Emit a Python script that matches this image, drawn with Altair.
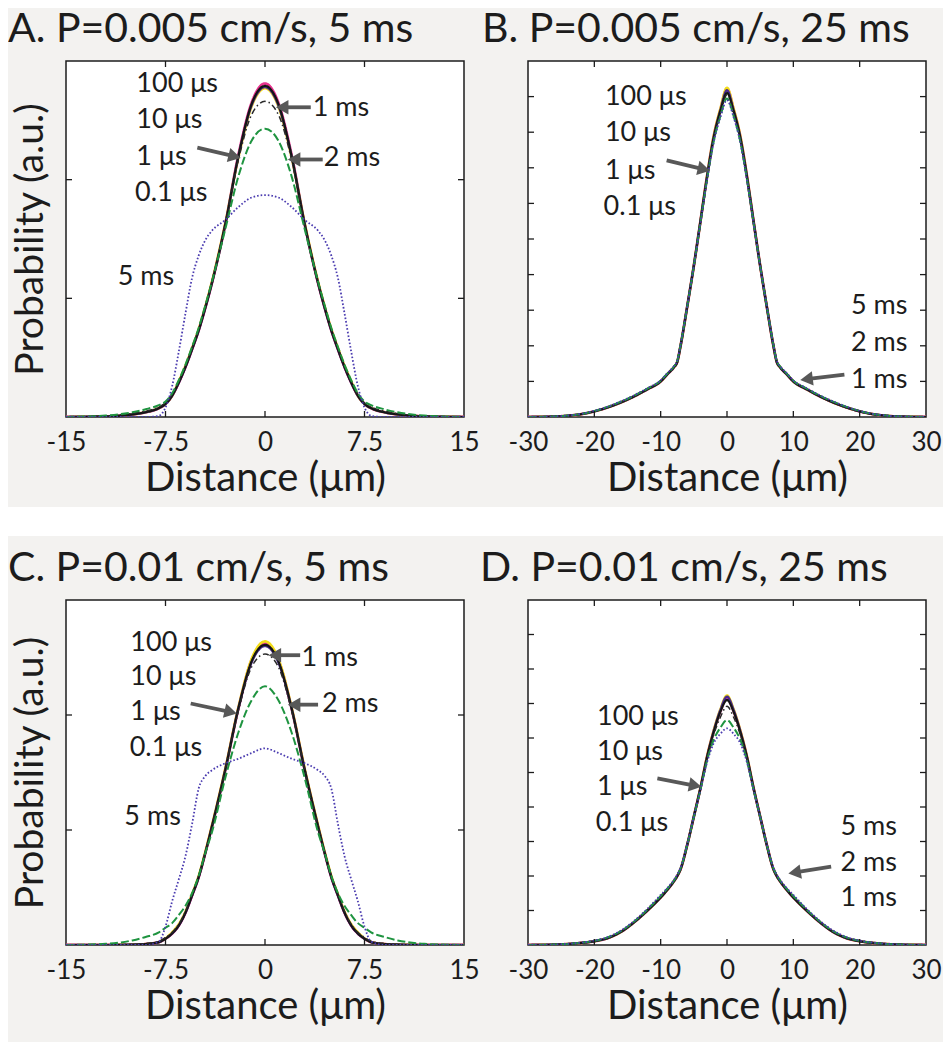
import altair as alt
import pandas as pd

FONT = "Lato"
INK = "#1c1c1c"
ARROW = "#585858"
BG = "#f3f2f0"

SERIES = ["0.1 μs", "1 μs", "10 μs", "100 μs", "1 ms", "2 ms", "5 ms"]
COLORS = {"0.1 μs": "#e8338f", "1 μs": "#f2dc1a", "10 μs": "#4a2a8e", "100 μs": "#151515",
          "1 ms": "#2a2a2a", "2 ms": "#1f9440", "5 ms": "#4b3cb0"}
DASHES = {"0.1 μs": [1, 0], "1 μs": [1, 0], "10 μs": [1, 0], "100 μs": [1, 0],
          "1 ms": [6, 3, 1.5, 3], "2 ms": [8, 3], "5 ms": [1.6, 2]}
WIDTHS = {"0.1 μs": 2.8, "1 μs": 2.6, "10 μs": 2.4, "100 μs": 2.2,
          "1 ms": 1.5, "2 ms": 2.0, "5 ms": 1.8}

# ---------------- x grids ----------------
XA = [-15, -12, -10, -9, -8, -7.5, -7, -6.5, -6, -5.5, -5, -4.5, -4, -3, -2, -1, 0,
      1, 2, 3, 4, 4.5, 5, 5.5, 6, 6.5, 7, 7.5, 8, 9, 10, 12, 15]
XB = [-30, -26, -24, -22, -20, -18, -16, -14, -12, -10, -9, -8, -7.5, -7, -6, -5, -4, -3, -2, -1, 0,
      1, 2, 3, 4, 5, 6, 7, 7.5, 8, 9, 10, 12, 14, 16, 18, 20, 22, 24, 26, 30]

# ---------------- Panel A: P=0.005 cm/s, 5 ms ----------------
A_01us = [0, 0.005, 0.021, 0.04, 0.074, 0.11, 0.18, 0.29, 0.42, 0.57, 0.73, 0.92, 1.13, 1.62, 2.21, 2.65, 2.81,
          2.65, 2.21, 1.62, 1.13, 0.92, 0.73, 0.57, 0.42, 0.29, 0.18, 0.11, 0.074, 0.04, 0.021, 0.005, 0]
A_1us = [0, 0.005, 0.022, 0.041, 0.076, 0.11, 0.18, 0.30, 0.43, 0.58, 0.74, 0.93, 1.14, 1.63, 2.19, 2.62, 2.77,
         2.62, 2.19, 1.63, 1.14, 0.93, 0.74, 0.58, 0.43, 0.30, 0.18, 0.11, 0.076, 0.041, 0.022, 0.005, 0]
A_10us = [0, 0.005, 0.022, 0.04, 0.075, 0.11, 0.18, 0.29, 0.42, 0.57, 0.73, 0.92, 1.13, 1.62, 2.20, 2.63, 2.78,
          2.63, 2.20, 1.62, 1.13, 0.92, 0.73, 0.57, 0.42, 0.29, 0.18, 0.11, 0.075, 0.04, 0.022, 0.005, 0]
A_100us = [0, 0.005, 0.022, 0.04, 0.075, 0.11, 0.18, 0.29, 0.42, 0.57, 0.73, 0.92, 1.13, 1.62, 2.20, 2.64, 2.79,
           2.64, 2.20, 1.62, 1.13, 0.92, 0.73, 0.57, 0.42, 0.29, 0.18, 0.11, 0.075, 0.04, 0.022, 0.005, 0]
A_1ms = [0, 0.008, 0.03, 0.05, 0.085, 0.12, 0.19, 0.30, 0.43, 0.58, 0.74, 0.93, 1.13, 1.62, 2.17, 2.55, 2.66,
         2.55, 2.17, 1.62, 1.13, 0.93, 0.74, 0.58, 0.43, 0.30, 0.19, 0.12, 0.085, 0.05, 0.03, 0.008, 0]
A_2ms = [0, 0.012, 0.04, 0.065, 0.10, 0.13, 0.20, 0.31, 0.44, 0.59, 0.75, 0.94, 1.14, 1.58, 2.03, 2.33, 2.43,
         2.33, 2.03, 1.58, 1.14, 0.94, 0.75, 0.59, 0.44, 0.31, 0.20, 0.13, 0.10, 0.065, 0.04, 0.012, 0]
A_5ms = [0, 0, 0, 0, 0.01, 0.08, 0.26, 0.55, 0.87, 1.17, 1.36, 1.49, 1.57, 1.66, 1.77, 1.85, 1.87,
         1.85, 1.77, 1.66, 1.57, 1.49, 1.36, 1.17, 0.87, 0.55, 0.26, 0.08, 0.01, 0, 0, 0, 0]

# ---------------- Panel B: P=0.005 cm/s, 25 ms ----------------
B_01us = [0, 0.012, 0.035, 0.08, 0.16, 0.27, 0.41, 0.58, 0.78, 1.0, 1.2, 1.4, 1.55, 2.0, 3.1, 4.25, 5.5, 6.77, 7.88, 8.63, 9.22,
          8.63, 7.88, 6.77, 5.5, 4.25, 3.1, 2.0, 1.55, 1.4, 1.2, 1.0, 0.78, 0.58, 0.41, 0.27, 0.16, 0.08, 0.035, 0.012, 0]
B_1us = [0, 0.012, 0.035, 0.08, 0.16, 0.27, 0.41, 0.58, 0.78, 1.0, 1.2, 1.4, 1.55, 2.0, 3.1, 4.25, 5.5, 6.78, 7.9, 8.66, 9.25,
         8.66, 7.9, 6.78, 5.5, 4.25, 3.1, 2.0, 1.55, 1.4, 1.2, 1.0, 0.78, 0.58, 0.41, 0.27, 0.16, 0.08, 0.035, 0.012, 0]
B_10us = [0, 0.012, 0.035, 0.08, 0.16, 0.27, 0.41, 0.58, 0.78, 1.0, 1.2, 1.4, 1.55, 2.0, 3.1, 4.25, 5.5, 6.76, 7.86, 8.61, 9.18,
          8.61, 7.86, 6.76, 5.5, 4.25, 3.1, 2.0, 1.55, 1.4, 1.2, 1.0, 0.78, 0.58, 0.41, 0.27, 0.16, 0.08, 0.035, 0.012, 0]
B_100us = [0, 0.012, 0.035, 0.08, 0.16, 0.27, 0.41, 0.58, 0.78, 1.0, 1.2, 1.4, 1.55, 2.0, 3.1, 4.25, 5.5, 6.75, 7.85, 8.6, 9.1,
           8.6, 7.85, 6.75, 5.5, 4.25, 3.1, 2.0, 1.55, 1.4, 1.2, 1.0, 0.78, 0.58, 0.41, 0.27, 0.16, 0.08, 0.035, 0.012, 0]
B_1ms = [0, 0.013, 0.037, 0.082, 0.165, 0.28, 0.42, 0.59, 0.79, 1.01, 1.21, 1.41, 1.56, 2.01, 3.1, 4.25, 5.48, 6.72, 7.8, 8.5, 9.05,
         8.5, 7.8, 6.72, 5.48, 4.25, 3.1, 2.01, 1.56, 1.41, 1.21, 1.01, 0.79, 0.59, 0.42, 0.28, 0.165, 0.082, 0.037, 0.013, 0]
B_2ms = [0, 0.014, 0.04, 0.085, 0.17, 0.285, 0.43, 0.6, 0.8, 1.02, 1.22, 1.42, 1.57, 2.02, 3.1, 4.24, 5.46, 6.68, 7.74, 8.45, 8.95,
         8.45, 7.74, 6.68, 5.46, 4.24, 3.1, 2.02, 1.57, 1.42, 1.22, 1.02, 0.8, 0.6, 0.43, 0.285, 0.17, 0.085, 0.04, 0.014, 0]
B_5ms = [0, 0.015, 0.042, 0.09, 0.175, 0.29, 0.44, 0.61, 0.81, 1.03, 1.23, 1.43, 1.58, 2.03, 3.11, 4.24, 5.45, 6.66, 7.72, 8.42, 8.9,
         8.42, 7.72, 6.66, 5.45, 4.24, 3.11, 2.03, 1.58, 1.43, 1.23, 1.03, 0.81, 0.61, 0.44, 0.29, 0.175, 0.09, 0.042, 0.015, 0]

# ---------------- Panel C: P=0.01 cm/s, 5 ms ----------------
C_01us = [0, 0, 0.003, 0.008, 0.025, 0.055, 0.10, 0.17, 0.28, 0.43, 0.59, 0.80, 1.03, 1.52, 2.06, 2.48, 2.62,
          2.48, 2.06, 1.52, 1.03, 0.80, 0.59, 0.43, 0.28, 0.17, 0.10, 0.055, 0.025, 0.008, 0.003, 0, 0]
C_1us = [0, 0, 0.003, 0.008, 0.026, 0.057, 0.11, 0.18, 0.29, 0.44, 0.60, 0.81, 1.04, 1.53, 2.07, 2.49, 2.64,
         2.49, 2.07, 1.53, 1.04, 0.81, 0.60, 0.44, 0.29, 0.18, 0.11, 0.057, 0.026, 0.008, 0.003, 0, 0]
C_10us = [0, 0, 0.003, 0.008, 0.025, 0.055, 0.10, 0.17, 0.28, 0.43, 0.59, 0.80, 1.03, 1.52, 2.06, 2.46, 2.60,
          2.46, 2.06, 1.52, 1.03, 0.80, 0.59, 0.43, 0.28, 0.17, 0.10, 0.055, 0.025, 0.008, 0.003, 0, 0]
C_100us = [0, 0, 0.003, 0.008, 0.025, 0.055, 0.10, 0.17, 0.28, 0.43, 0.59, 0.80, 1.03, 1.52, 2.06, 2.47, 2.61,
           2.47, 2.06, 1.52, 1.03, 0.80, 0.59, 0.43, 0.28, 0.17, 0.10, 0.055, 0.025, 0.008, 0.003, 0, 0]
C_1ms = [0, 0.001, 0.005, 0.012, 0.032, 0.065, 0.11, 0.18, 0.29, 0.44, 0.60, 0.80, 1.03, 1.52, 2.04, 2.42, 2.53,
         2.42, 2.04, 1.52, 1.03, 0.80, 0.60, 0.44, 0.29, 0.18, 0.11, 0.065, 0.032, 0.012, 0.005, 0.001, 0]
C_2ms = [0, 0.01, 0.04, 0.07, 0.11, 0.15, 0.19, 0.26, 0.34, 0.45, 0.60, 0.80, 0.98, 1.45, 1.85, 2.13, 2.25,
         2.13, 1.85, 1.45, 0.98, 0.80, 0.60, 0.45, 0.34, 0.26, 0.19, 0.15, 0.11, 0.07, 0.04, 0.01, 0]
C_5ms = [0, 0, 0, 0, 0.03, 0.16, 0.38, 0.57, 0.77, 1.05, 1.36, 1.47, 1.52, 1.58, 1.62, 1.67, 1.71,
         1.67, 1.62, 1.58, 1.52, 1.47, 1.36, 1.05, 0.77, 0.57, 0.38, 0.16, 0.03, 0, 0, 0, 0]

# ---------------- Panel D: P=0.01 cm/s, 25 ms ----------------
D_01us = [0, 0.01, 0.028, 0.06, 0.11, 0.2, 0.38, 0.66, 1.0, 1.38, 1.6, 1.85, 2.0, 2.2, 2.9, 3.72, 4.55, 5.46, 6.2, 6.78, 7.16,
          6.78, 6.2, 5.46, 4.55, 3.72, 2.9, 2.2, 2.0, 1.85, 1.6, 1.38, 1.0, 0.66, 0.38, 0.2, 0.11, 0.06, 0.028, 0.01, 0]
D_1us = [0, 0.01, 0.028, 0.06, 0.11, 0.2, 0.38, 0.66, 1.0, 1.38, 1.6, 1.85, 2.0, 2.2, 2.9, 3.72, 4.56, 5.47, 6.22, 6.83, 7.23,
         6.83, 6.22, 5.47, 4.56, 3.72, 2.9, 2.2, 2.0, 1.85, 1.6, 1.38, 1.0, 0.66, 0.38, 0.2, 0.11, 0.06, 0.028, 0.01, 0]
D_10us = [0, 0.01, 0.028, 0.06, 0.11, 0.2, 0.38, 0.66, 1.0, 1.38, 1.6, 1.85, 2.0, 2.2, 2.9, 3.72, 4.55, 5.45, 6.2, 6.81, 7.2,
          6.81, 6.2, 5.45, 4.55, 3.72, 2.9, 2.2, 2.0, 1.85, 1.6, 1.38, 1.0, 0.66, 0.38, 0.2, 0.11, 0.06, 0.028, 0.01, 0]
D_100us = [0, 0.01, 0.028, 0.06, 0.11, 0.2, 0.38, 0.66, 1.0, 1.38, 1.6, 1.85, 2.0, 2.2, 2.9, 3.72, 4.55, 5.45, 6.18, 6.76, 7.1,
           6.76, 6.18, 5.45, 4.55, 3.72, 2.9, 2.2, 2.0, 1.85, 1.6, 1.38, 1.0, 0.66, 0.38, 0.2, 0.11, 0.06, 0.028, 0.01, 0]
D_1ms = [0, 0.011, 0.03, 0.063, 0.115, 0.21, 0.39, 0.67, 1.01, 1.4, 1.62, 1.86, 2.01, 2.21, 2.9, 3.72, 4.54, 5.42, 6.1, 6.6, 6.92,
         6.6, 6.1, 5.42, 4.54, 3.72, 2.9, 2.21, 2.01, 1.86, 1.62, 1.4, 1.01, 0.67, 0.39, 0.21, 0.115, 0.063, 0.03, 0.011, 0]
D_2ms = [0, 0.012, 0.032, 0.066, 0.12, 0.22, 0.4, 0.68, 1.03, 1.42, 1.63, 1.87, 2.02, 2.22, 2.9, 3.71, 4.5, 5.35, 5.95, 6.3, 6.52,
         6.3, 5.95, 5.35, 4.5, 3.71, 2.9, 2.22, 2.02, 1.87, 1.63, 1.42, 1.03, 0.68, 0.4, 0.22, 0.12, 0.066, 0.032, 0.012, 0]
D_5ms = [0, 0.013, 0.035, 0.07, 0.13, 0.23, 0.42, 0.7, 1.05, 1.45, 1.65, 1.89, 2.04, 2.24, 2.92, 3.72, 4.5, 5.3, 5.85, 6.12, 6.28,
         6.12, 5.85, 5.3, 4.5, 3.72, 2.92, 2.24, 2.04, 1.89, 1.65, 1.45, 1.05, 0.7, 0.42, 0.23, 0.13, 0.07, 0.035, 0.013, 0]

# ---------------- text and arrows ----------------
A_TXT = [("100 μs", -9.7, 2.81), ("10 μs", -9.7, 2.50), ("1 μs", -9.7, 2.19), ("0.1 μs", -9.8, 1.89),
         ("5 ms", -11.1, 1.18), ("1 ms", 3.6, 2.60), ("2 ms", 4.43, 2.18)]
B_TXT = [("100 μs", -18.4, 9.0), ("10 μs", -18.4, 7.97), ("1 μs", -18.4, 6.92), ("0.1 μs", -18.6, 5.9),
         ("5 ms", 18.7, 3.11), ("2 ms", 18.7, 2.08), ("1 ms", 18.7, 1.05)]
C_TXT = [("100 μs", -10.15, 2.63), ("10 μs", -10.15, 2.33), ("1 μs", -10.15, 2.03), ("0.1 μs", -10.2, 1.71),
         ("5 ms", -10.6, 1.11), ("1 ms", 2.75, 2.50), ("2 ms", 4.3, 2.10)]
D_TXT = [("100 μs", -19.6, 6.6), ("10 μs", -19.6, 5.6), ("1 μs", -19.6, 4.58), ("0.1 μs", -19.8, 3.54),
         ("5 ms", 17.1, 3.42), ("2 ms", 17.1, 2.38), ("1 ms", 17.1, 1.36)]

# arrows: start x, start y, head x, head y, head angle
A_ARR = [(3.45, 2.61, 1.45, 2.61, 270), (4.35, 2.17, 2.35, 2.17, 270), (-5.1, 2.27, -2.44, 2.20, 104)]
B_ARR = [(-9.1, 7.21, -3.78, 6.97, 103), (17.7, 1.19, 12.3, 1.07, 263)]
C_ARR = [(2.65, 2.52, 0.9, 2.52, 270), (4.0, 2.09, 2.35, 2.09, 270), (-5.6, 2.10, -2.74, 2.03, 103)]
D_ARR = [(-10.5, 4.83, -5.1, 4.63, 101), (15.7, 2.27, 10.5, 2.11, 261)]

TITLE_FS = 41
AXTITLE_FS = 40
YTITLE_FS = 39
LABEL_FS = 26
NOTE_FS = 27


def panel(xs, curves, xdom, xvals, ydom, yticks, w, h, title, tdx, ytitle, texts, arrows, strip=False):
    xs_scale = alt.Scale(domain=xdom, nice=False, zero=False)
    ys_scale = alt.Scale(domain=ydom, nice=False, zero=False)
    xaxis = alt.Axis(values=xvals, format=".1~f", labelExpr="replace(datum.label, '\u2212', '-')",
                     ticks=False, tickSize=0, domain=False, grid=False, labelFlush=False,
                     labelFontSize=LABEL_FS, labelFont=FONT, labelColor=INK, labelPadding=12,
                     title="Distance (μm)", titleFontSize=AXTITLE_FS, titleFont=FONT, titleFontWeight="normal",
                     titleColor=INK, titlePadding=3)
    if ytitle:
        yaxis = alt.Axis(labels=False, ticks=False, tickSize=0, domain=False, grid=False,
                         title=ytitle, titleFontSize=YTITLE_FS, titleFont=FONT, titleFontWeight="normal",
                         titleColor=INK, titlePadding=16)
    else:
        yaxis = None
    layers = []
    if strip:
        layers.append(alt.Chart(pd.DataFrame({"k": [0]})).mark_rect(color="white").encode(
            x=alt.value(-80), x2=alt.value(w + 600), y=alt.value(h + 90), y2=alt.value(h + 119)))
    for s, ys in zip(SERIES, curves):
        df = pd.DataFrame({"x": xs, "y": ys})
        layers.append(alt.Chart(df).mark_line(color=COLORS[s], strokeDash=DASHES[s], strokeWidth=WIDTHS[s],
                                              interpolate="monotone", clip=True).encode(
            x=alt.X("x:Q", scale=xs_scale, axis=xaxis),
            y=alt.Y("y:Q", scale=ys_scale, axis=yaxis)))
    xt = pd.DataFrame({"t": [v for v in xvals if xdom[0] < v < xdom[1]]})
    yt = pd.DataFrame({"t": yticks})
    tick = dict(color=INK, strokeWidth=1.3)
    layers.append(alt.Chart(xt).mark_rule(**tick).encode(
        x=alt.X("t:Q", scale=xs_scale, axis=xaxis), y=alt.value(h), y2=alt.value(h - 6)))
    layers.append(alt.Chart(xt).mark_rule(**tick).encode(
        x=alt.X("t:Q", scale=xs_scale, axis=xaxis), y=alt.value(0), y2=alt.value(6)))
    layers.append(alt.Chart(yt).mark_rule(**tick).encode(
        y=alt.Y("t:Q", scale=ys_scale, axis=yaxis), x=alt.value(0), x2=alt.value(6)))
    layers.append(alt.Chart(yt).mark_rule(**tick).encode(
        y=alt.Y("t:Q", scale=ys_scale, axis=yaxis), x=alt.value(w - 6), x2=alt.value(w)))
    tdf = pd.DataFrame(texts, columns=["label", "lx", "ly"])
    layers.append(alt.Chart(tdf).mark_text(align="left", baseline="middle", fontSize=NOTE_FS, font=FONT,
                                           color=INK).encode(
        x=alt.X("lx:Q", scale=xs_scale, axis=xaxis), y=alt.Y("ly:Q", scale=ys_scale, axis=yaxis),
        text="label:N"))
    adf = pd.DataFrame(arrows, columns=["ax", "ay", "hx", "hy", "ang"])
    layers.append(alt.Chart(adf).mark_rule(color=ARROW, strokeWidth=3.8).encode(
        x=alt.X("ax:Q", scale=xs_scale, axis=xaxis), y=alt.Y("ay:Q", scale=ys_scale, axis=yaxis),
        x2="hx:Q", y2="hy:Q"))
    layers.append(alt.Chart(adf).mark_point(shape="triangle", filled=True, size=210, color=ARROW,
                                            opacity=1).encode(
        x=alt.X("hx:Q", scale=xs_scale, axis=xaxis), y=alt.Y("hy:Q", scale=ys_scale, axis=yaxis),
        angle=alt.Angle("ang:Q", scale=None)))
    return alt.layer(*layers).properties(
        width=w, height=h,
        title=alt.TitleParams(text=title, anchor="start", frame="group", dx=tdx, dy=42, offset=19,
                              baseline="alphabetic", fontSize=TITLE_FS, font=FONT, fontWeight="normal",
                              color=INK))


pa = panel(XA, [A_01us, A_1us, A_10us, A_100us, A_1ms, A_2ms, A_5ms], [-15, 15], [-15, -7.5, 0, 7.5, 15],
           [0, 3], [1, 2], 398, 356, "A. P=0.005 cm/s, 5 ms", -58, "Probability (a.u.)", A_TXT, A_ARR, strip=True)
pb = panel(XB, [B_01us, B_1us, B_10us, B_100us, B_1ms, B_2ms, B_5ms], [-30, 30], [-30, -20, -10, 0, 10, 20, 30],
           [0, 10], [1, 2, 3, 4, 5, 6, 7, 8, 9], 398, 356, "B. P=0.005 cm/s, 25 ms", -46, None, B_TXT, B_ARR)
pc = panel(XA, [C_01us, C_1us, C_10us, C_100us, C_1ms, C_2ms, C_5ms], [-15, 15], [-15, -7.5, 0, 7.5, 15],
           [0, 3], [1, 2], 398, 345, "C. P=0.01 cm/s, 5 ms", -58, "Probability (a.u.)", C_TXT, C_ARR)
pd_ = panel(XB, [D_01us, D_1us, D_10us, D_100us, D_1ms, D_2ms, D_5ms], [-30, 30], [-30, -20, -10, 0, 10, 20, 30],
            [0, 10], [1, 2, 3, 4, 5, 6, 7, 8, 9], 398, 345, "D. P=0.01 cm/s, 25 ms", -48, None, D_TXT, D_ARR)

chart = alt.concat(pa, pb, pc, pd_, columns=2, spacing=alt.RowColnumber(row=183, column=64),
                   bounds="flush").properties(
    background=BG,
    padding={"left": 58, "top": 53, "right": 877, "bottom": 981},
    autosize=alt.AutoSizeParams(type="none"),
).configure_view(stroke=INK, strokeWidth=1.5, fill="white")

chart.save("out.html", embed_options={"renderer": "svg", "actions": False})
